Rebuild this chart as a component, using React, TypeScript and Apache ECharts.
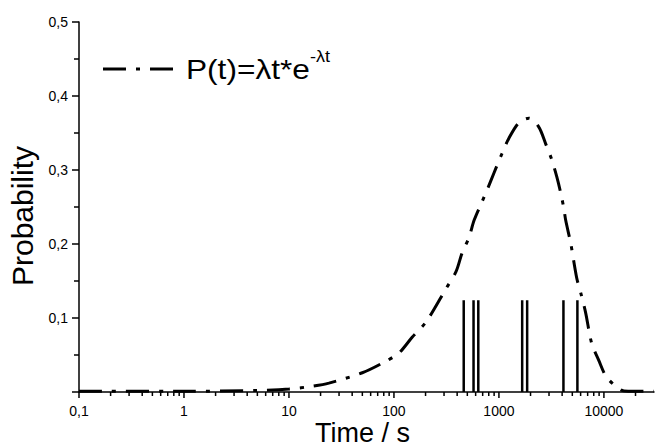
import React, { useEffect, useRef } from "react";
import * as echarts from "echarts";

// Curve P(t): [time in s, probability]
const curveTimes = [
  0.1, 1, 5, 10, 17, 24, 50, 80, 112, 149, 203, 314, 391, 446, 519, 580, 690,
  787, 897, 1068, 1245, 1550, 1928, 2399, 2795, 3185, 3555, 3878, 4142, 4326,
  4827, 5508, 6015, 6701, 7638, 8912, 10620, 14420, 17000, 30000,
];
const curveValues = [
  0.001, 0.001, 0.002, 0.004, 0.008, 0.012, 0.026, 0.04, 0.053, 0.074, 0.095,
  0.14, 0.163, 0.188, 0.209, 0.232, 0.257, 0.276, 0.296, 0.322, 0.343, 0.364,
  0.37, 0.358, 0.335, 0.314, 0.291, 0.269, 0.249, 0.232, 0.201, 0.154, 0.134,
  0.107, 0.066, 0.043, 0.02, 0.003, 0.001, 0.001,
];

// Vertical spikes (observed events)
const spikeTimes = [462, 573, 636, 1665, 1857, 4116, 5590];
const spikeHeight = 0.124;

// X axis ticks (log scale)
const majorTickValues = [0.1, 1, 10, 100, 1000, 10000];
const minorTickValues = [
  0.2, 0.3, 0.4, 0.5, 0.6, 0.7, 0.8, 0.9,
  2, 3, 4, 5, 6, 7, 8, 9,
  20, 30, 40, 50, 60, 70, 80, 90,
  200, 300, 400, 500, 600, 700, 800, 900,
  2000, 3000, 4000, 5000, 6000, 7000, 8000, 9000,
  20000,
];

const xName = "Time / s";
const yName = "Probability";
const legendMain = "P(t)=λt*e";
const legendSup = "-λt";

const FONT = "'Liberation Sans', Arial, Helvetica, sans-serif";
const DASH = [23, 10, 4, 10];

export default function App() {
  const ref = useRef<HTMLDivElement>(null);

  useEffect(() => {
    document.body.style.margin = "0";
    if (!ref.current) return;
    const chart = echarts.init(ref.current, null, { renderer: "svg" });

    const isPow10 = (v: number) => {
      const l = Math.log10(v);
      return Math.abs(l - Math.round(l)) < 1e-6;
    };

    const tickRender = (len: number) => (params: any, api: any) => {
      const p = api.coord([api.value(0), 0]);
      return {
        type: "line",
        shape: { x1: p[0], y1: p[1], x2: p[0], y2: p[1] + len },
        style: { stroke: "#000", lineWidth: 1.5 },
      };
    };

    chart.setOption({
      animation: false,
      backgroundColor: "#fff",
      grid: { left: 79, right: 2, top: 22, bottom: 54 },
      xAxis: {
        type: "log",
        logBase: 10,
        min: 0.1,
        max: 30000,
        axisLine: { show: true, onZero: false, lineStyle: { color: "#000", width: 1.5 } },
        axisTick: { show: false },
        minorTick: { show: false },
        splitLine: { show: false },
        axisLabel: {
          color: "#000",
          fontSize: 14,
          lineHeight: 14,
          fontFamily: FONT,
          margin: 12,
          formatter: (v: number) => (isPow10(v) ? String(v).replace(".", ",") : ""),
        },
      },
      yAxis: {
        type: "value",
        min: 0,
        max: 0.5,
        interval: 0.1,
        axisLine: { show: true, onZero: false, lineStyle: { color: "#000", width: 1.5 } },
        axisTick: { show: true, inside: false, length: 7, lineStyle: { color: "#000", width: 1.5 } },
        minorTick: { show: true, splitNumber: 2, length: 5, lineStyle: { color: "#000", width: 1.5 } },
        splitLine: { show: false },
        minorSplitLine: { show: false },
        axisLabel: {
          color: "#000",
          fontSize: 14,
          fontFamily: FONT,
          margin: 11,
          formatter: (v: number) => (v === 0 ? "" : v.toFixed(1).replace(".", ",")),
        },
      },
      series: [
        {
          type: "line",
          data: curveTimes.map((t, i) => [t, curveValues[i]]),
          showSymbol: false,
          smooth: 0.3,
          lineStyle: { color: "#000", width: 3, type: DASH, cap: "butt" },
          z: 3,
        },
        {
          type: "custom",
          data: spikeTimes.map((t) => [t, spikeHeight]),
          renderItem: (params: any, api: any) => {
            const top = api.coord([api.value(0), api.value(1)]);
            const base = api.coord([api.value(0), 0]);
            return {
              type: "line",
              shape: { x1: top[0], y1: top[1], x2: base[0], y2: base[1] },
              style: { stroke: "#000", lineWidth: 2.5 },
            };
          },
          z: 4,
        },
        {
          type: "custom",
          data: majorTickValues.map((t) => [t, 0]),
          renderItem: tickRender(6),
          clip: false,
          z: 5,
        },
        {
          type: "custom",
          data: minorTickValues.map((t) => [t, 0]),
          renderItem: tickRender(4),
          clip: false,
          z: 5,
        },
      ],
      graphic: [
        {
          type: "line",
          shape: { x1: 103, y1: 69, x2: 176, y2: 69 },
          style: { stroke: "#000", lineWidth: 3, lineDash: DASH },
        },
        {
          type: "text",
          x: 186,
          y: 69,
          scaleX: 1.13,
          style: {
            text: `{a|${legendMain}}{b|${legendSup}}`,
            fontFamily: FONT,
            fill: "#000",
            align: "left",
            verticalAlign: "middle",
            rich: {
              a: { fontSize: 28, lineHeight: 40, fontFamily: FONT, fill: "#000" },
              b: { fontSize: 16, lineHeight: 16, verticalAlign: "top", fontFamily: FONT, fill: "#000" },
            },
          },
        },
        {
          type: "text",
          x: 22.5,
          y: 216,
          rotation: Math.PI / 2,
          style: {
            text: yName,
            fontSize: 30,
            fontFamily: FONT,
            fill: "#000",
            align: "center",
            verticalAlign: "middle",
          },
        },
        {
          type: "text",
          x: 362.5,
          y: 432.5,
          style: {
            text: xName,
            fontSize: 27,
            fontFamily: FONT,
            fill: "#000",
            align: "center",
            verticalAlign: "middle",
          },
        },
      ],
    });

    return () => chart.dispose();
  }, []);

  return <div ref={ref} style={{ width: 657, height: 446 }} />;
}
